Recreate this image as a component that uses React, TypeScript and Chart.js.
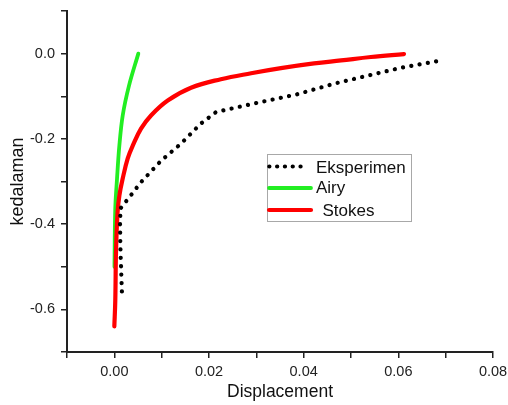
import React, { useEffect, useRef } from 'react';
import { Chart, registerables } from 'chart.js';

Chart.register(...registerables);

// Axis ranges
const xMin = -0.01;
const xMax = 0.08;
const yMin = -0.7;
const yMax = 0.1;

// Series: Eksperimen (dotted black)
const eksX = [0.0016, 0.0013, 0.0012, 0.0013, 0.0023, 0.0031, 0.0056, 0.0099, 0.0141, 0.0183, 0.0215, 0.0295, 0.0384, 0.0466, 0.0606, 0.069];
const eksY = [-0.558, -0.462, -0.403, -0.363, -0.349, -0.338, -0.302, -0.251, -0.211, -0.164, -0.137, -0.117, -0.096, -0.07, -0.033, -0.016];

// Series: Airy (green)
const airyX = [0.00003, 0.0002, 0.00057, 0.00106, 0.00177, 0.0031, 0.00507];
const airyY = [-0.5, -0.363, -0.293, -0.216, -0.145, -0.075, 0.0];

// Series: Stokes (red)
const stokesX = [0.0, 0.0002, 0.00036, 0.00068, 0.00106, 0.00177, 0.00283, 0.00389, 0.00564, 0.00775, 0.01128, 0.0162, 0.0225, 0.0289, 0.0352, 0.0422, 0.0479, 0.0542, 0.0612];
const stokesY = [-0.64, -0.579, -0.462, -0.373, -0.333, -0.293, -0.246, -0.216, -0.176, -0.145, -0.11, -0.08, -0.06, -0.046, -0.034, -0.023, -0.016, -0.008, -0.001];

const seriesLabels = ['Eksperimen', 'Airy', 'Stokes'];
const xTitle = 'Displacement';
const yTitle = 'kedalaman';

const FONT = '"Liberation Sans", Arial, sans-serif';

const toPoints = (xs: number[], ys: number[]) => xs.map((x, i) => ({ x, y: ys[i] }));

const legendPlugin = {
  id: 'boxLegend',
  afterDraw(chart: any) {
    const ctx = chart.ctx as CanvasRenderingContext2D;
    const bx = 267.5, by = 154.5, bw = 144, bh = 67;
    ctx.save();
    ctx.fillStyle = '#ffffff';
    ctx.fillRect(bx, by, bw, bh);
    ctx.strokeStyle = '#a8a8a8';
    ctx.lineWidth = 1;
    ctx.strokeRect(bx, by, bw, bh);
    const rows = [
      { y: 166.5, base: 172.7, x0: 269.3, x1: 301, tx: 316 },
      { y: 188, base: 193.3, x0: 269, x1: 311, tx: 316 },
      { y: 210, base: 216, x0: 269, x1: 311, tx: 322.5 },
    ];
    chart.data.datasets.forEach((ds: any, i: number) => {
      const r = rows[i];
      ctx.beginPath();
      ctx.strokeStyle = ds.borderColor;
      ctx.lineWidth = ds.borderWidth;
      ctx.lineCap = ds.borderCapStyle || 'butt';
      ctx.setLineDash(ds.borderDash ? [0.1, 7.7] : []);
      ctx.moveTo(r.x0, r.y);
      ctx.lineTo(r.x1, r.y);
      ctx.stroke();
      ctx.setLineDash([]);
      ctx.fillStyle = '#111';
      ctx.font = `17px ${FONT}`;
      ctx.textAlign = 'left';
      ctx.textBaseline = 'alphabetic';
      ctx.fillText(ds.label, r.tx, r.base);
    });
    ctx.restore();
  },
};

export default function App() {
  const canvasRef = useRef<HTMLCanvasElement | null>(null);

  useEffect(() => {
    const canvas = canvasRef.current;
    if (!canvas) return;
    const chart = new Chart(canvas, {
      type: 'scatter',
      data: {
        datasets: [
          {
            label: seriesLabels[0],
            data: toPoints(eksX, eksY),
            showLine: true,
            borderColor: '#000000',
            backgroundColor: '#000000',
            borderWidth: 4.2,
            borderDash: [0.1, 8.3],
            borderCapStyle: 'round',
            pointRadius: 0,
            tension: 0,
            order: 0,
          },
          {
            label: seriesLabels[1],
            data: toPoints(airyX, airyY),
            showLine: true,
            borderColor: '#22ee22',
            backgroundColor: '#22ee22',
            borderWidth: 3.8,
            borderCapStyle: 'round',
            pointRadius: 0,
            tension: 0.35,
            order: 2,
          },
          {
            label: seriesLabels[2],
            data: toPoints(stokesX, stokesY),
            showLine: true,
            borderColor: '#ff0000',
            backgroundColor: '#ff0000',
            borderWidth: 4.2,
            borderCapStyle: 'round',
            pointRadius: 0,
            tension: 0.4,
            order: 1,
          },
        ],
      },
      options: {
        animation: false,
        responsive: false,
        devicePixelRatio: 1,
        layout: { padding: { top: 11, right: 15, left: 0, bottom: 0 } },
        plugins: {
          legend: { display: false },
          tooltip: { enabled: false },
        },
        scales: {
          x: {
            type: 'linear',
            min: xMin,
            max: xMax,
            afterFit: (s: any) => {
              s.height = 53;
              s.paddingLeft = 0;
              s.paddingRight = 0;
            },
            border: { display: true, color: '#222', width: 2 },
            grid: {
              display: true,
              drawOnChartArea: false,
              drawTicks: true,
              tickLength: 6,
              color: '#222',
              lineWidth: 1.5,
            },
            ticks: {
              stepSize: 0.01,
              padding: 5,
              color: '#222',
              maxRotation: 0,
              autoSkip: false,
              font: { family: FONT, size: 14.5 },
              callback: (v: any) => {
                const n = Math.round(Number(v) * 100);
                if (n % 2 !== 0 || n < 0) return '';
                return (n / 100).toFixed(2);
              },
            },
            title: {
              display: true,
              text: xTitle,
              color: '#111',
              font: { family: FONT, size: 17.5 },
              padding: { top: 0, bottom: 2.5 },
            },
          },
          y: {
            type: 'linear',
            min: yMin,
            max: yMax,
            afterFit: (s: any) => {
              s.width = 67;
              s.paddingTop = 0;
              s.paddingBottom = 0;
            },
            border: { display: true, color: '#222', width: 2 },
            grid: {
              display: true,
              drawOnChartArea: false,
              drawTicks: true,
              tickLength: 6,
              color: '#222',
              lineWidth: 1.5,
            },
            ticks: {
              stepSize: 0.1,
              padding: 6,
              color: '#222',
              autoSkip: false,
              font: { family: FONT, size: 14.5 },
              callback: (v: any) => {
                const n = Math.round(Number(v) * 10);
                if (n % 2 !== 0 || n < -6 || n > 0) return '';
                return n === 0 ? '0.0' : (n / 10).toFixed(1);
              },
            },
            title: {
              display: true,
              text: yTitle,
              color: '#111',
              font: { family: FONT, size: 18 },
              padding: { top: 7.7, bottom: 0 },
            },
          },
        },
      },
      plugins: [legendPlugin],
    } as any);
    return () => chart.destroy();
  }, []);

  return (
    <div style={{ position: 'absolute', left: 0, top: 0, width: 508, height: 405, background: '#fff' }}>
      <canvas ref={canvasRef} width={508} height={405} style={{ display: 'block', width: 508, height: 405 }} />
    </div>
  );
}
